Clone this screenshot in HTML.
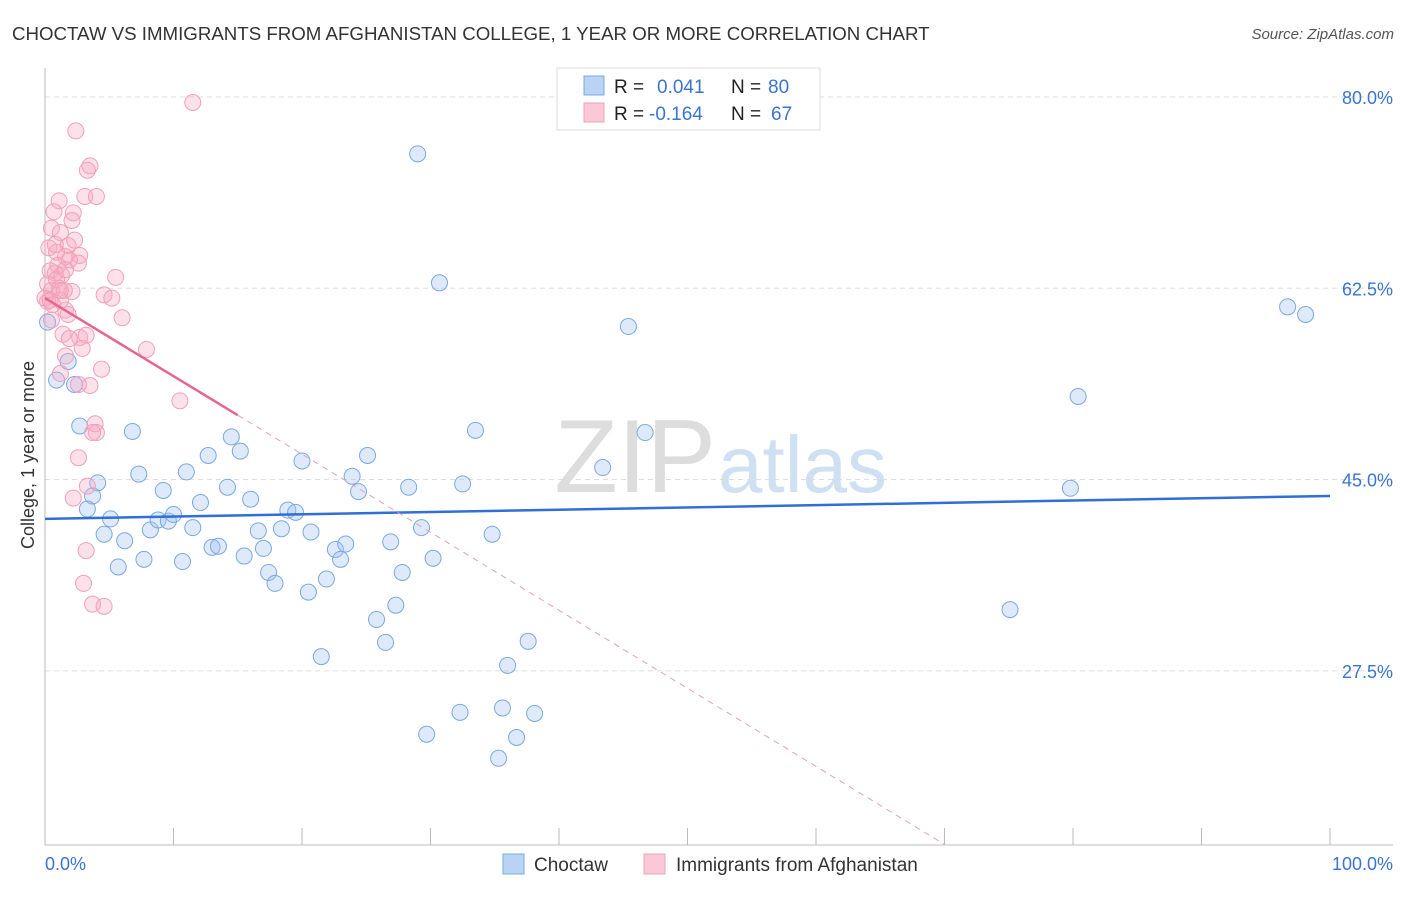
<!DOCTYPE html>
<html><head><meta charset="utf-8"><style>
body{margin:0;background:#fff;font-family:"Liberation Sans",sans-serif;}
svg text{font-family:"Liberation Sans",sans-serif;}
</style></head><body>
<svg id="chart" width="1406" height="892" xmlns="http://www.w3.org/2000/svg">
<text x="12" y="40" font-size="18.7" fill="#333">CHOCTAW VS IMMIGRANTS FROM AFGHANISTAN COLLEGE, 1 YEAR OR MORE CORRELATION CHART</text>
<text x="1394" y="39" font-size="15" fill="#555" text-anchor="end" font-style="italic">Source: ZipAtlas.com</text>
<text x="716" y="492" font-size="104" fill="#ddd" text-anchor="end" font-family="Liberation Serif">ZIP</text>
<text x="718" y="492" font-size="80" fill="#cfe0f3">atlas</text>
<g id="grid"></g>
<g id="axes"></g>
<g id="pts"></g>
<g id="trends"></g>
<text transform="translate(34,455) rotate(-90)" font-size="18" fill="#333" text-anchor="middle">College, 1 year or more</text>
<text x="45" y="870" font-size="18" fill="#3a74d0">0.0%</text>
<text x="1393" y="870" font-size="18" fill="#3a74d0" text-anchor="end">100.0%</text>
<g>
<rect x="557" y="68" width="263" height="62" fill="#fff" stroke="#ddd"/>
<rect x="584" y="76" width="20" height="19" fill="#b9d3f5" stroke="#7aa8e0"/>
<rect x="584" y="103" width="20" height="19" fill="#fbc8d7" stroke="#f0a0b8"/>
<text x="614" y="93" font-size="19" fill="#222">R =</text>
<text x="657" y="93" font-size="19" fill="#3a74d0">0.041</text>
<text x="731" y="93" font-size="19" fill="#222">N =</text>
<text x="768" y="93" font-size="19" fill="#3a74d0">80</text>
<text x="614" y="120" font-size="19" fill="#222">R =</text>
<text x="649" y="120" font-size="19" fill="#3a74d0">-0.164</text>
<text x="731" y="120" font-size="19" fill="#222">N =</text>
<text x="771" y="120" font-size="19" fill="#3a74d0">67</text>
</g>
<g>
<rect x="503" y="854" width="21" height="20" fill="#b9d3f5" stroke="#7aa8e0"/>
<text x="534" y="871" font-size="19" fill="#333">Choctaw</text>
<rect x="644" y="854" width="21" height="20" fill="#fbc8d7" stroke="#f0a0b8"/>
<text x="676" y="871" font-size="19" fill="#333">Immigrants from Afghanistan</text>
</g>
</svg>
<script>
const yTicks=[80,62.5,45,27.5];
const yTickLabels=["80.0%","62.5%","45.0%","27.5%"];
const xTicks=[0,10,20,30,40,50,60,70,80,90,100];
const blueX=[29.0,30.7,45.4,96.7,98.1,80.4,33.5,46.7,43.4,79.8,0.2,0.9,1.8,2.3,2.7,4.1,3.7,3.3,5.1,4.6,6.2,5.7,7.7,6.8,7.3,9.2,8.2,8.8,9.6,10.0,11.0,10.7,11.5,12.1,12.7,13.0,13.5,14.2,14.5,15.2,15.5,16.0,16.6,17.0,17.4,17.9,18.4,18.9,19.5,20.0,20.5,20.7,21.5,21.9,22.6,23.0,23.4,23.9,24.4,25.1,25.8,26.5,26.9,27.3,27.8,28.3,29.3,30.2,32.5,34.8,36.0,37.6,32.3,35.6,38.1,29.7,36.7,35.3,75.1];
const blueY=[74.8,63.0,59.0,60.8,60.1,52.6,49.5,49.3,46.1,44.2,59.4,54.1,55.8,53.7,49.9,44.7,43.5,42.3,41.4,40.0,39.4,37.0,37.7,49.4,45.5,44.0,40.4,41.3,41.2,41.8,45.7,37.5,40.6,42.9,47.2,38.8,38.9,44.3,48.9,47.6,38.0,43.2,40.3,38.7,36.5,35.5,40.5,42.2,42.0,46.7,34.7,40.2,28.8,35.9,38.6,37.7,39.1,45.3,43.9,47.2,32.2,30.1,39.3,33.5,36.5,44.3,40.6,37.8,44.6,40.0,28.0,30.2,23.7,24.1,23.6,21.7,21.4,19.5,33.1];
const pinkX=[11.5,2.4,3.5,3.1,4.0,1.1,0.7,2.2,2.1,0.5,1.2,1.8,0.3,0.9,2.7,2.6,1.6,0.4,0.8,1.3,5.5,0.2,1.1,2.1,4.6,5.2,0.2,1.6,1.8,6.0,0.5,1.4,2.7,3.2,1.9,2.9,7.9,1.6,4.4,1.2,3.5,2.6,10.5,3.9,4.0,3.7,2.6,3.3,2.2,3.2,3.0,3.7,4.6,0.5,0.9,1.2,0.0,1.9,1.0,0.4,1.5,2.3,1.2,0.6,1.6,3.3,0.8];
const pinkY=[79.5,76.9,73.7,70.9,70.9,70.5,69.5,69.4,68.7,68.0,67.6,66.4,66.2,65.8,65.5,64.8,65.4,64.1,63.9,63.7,63.5,62.9,62.5,62.2,61.9,61.6,61.3,60.5,60.1,59.8,59.6,58.3,58.0,58.2,57.9,57.0,56.9,56.3,55.1,54.7,53.6,53.7,52.2,50.1,49.3,49.3,47.0,44.4,43.3,38.5,35.5,33.6,33.4,62.3,63.3,61.4,61.6,65.1,64.6,61.4,62.3,66.9,62.3,61.0,64.2,73.3,66.5];
const blueTrend=[41.4,0.021];
const pinkTrend=[61.6,-0.714];
const pinkSolidEnd=15;
const X0=45,X1=1330,Y0=97,PX_PER_PCT=10.93,YBOT=845;
const sx=v=>X0+(X1-X0)*v/100;
const sy=v=>Y0+(80-v)*PX_PER_PCT;
const NS="http://www.w3.org/2000/svg";
function mk(t,a,p){const e=document.createElementNS(NS,t);for(const k in a)e.setAttribute(k,a[k]);p.appendChild(e);return e;}
const grid=document.getElementById('grid'),axes=document.getElementById('axes'),pts=document.getElementById('pts'),tr=document.getElementById('trends');
yTicks.forEach((v,i)=>{
 const l=mk('line',{x1:X0,x2:1393,y1:sy(v),y2:sy(v),stroke:'#ddd','stroke-dasharray':'5,4'},grid);
 
 
 const t=mk('text',{x:1393,y:sy(v)+7,'font-size':18,fill:'#3a74d0','text-anchor':'end'},grid);
 t.textContent=yTickLabels[i];
 
 
});
const xa=mk('line',{x1:X0,x2:1393,y1:YBOT,y2:YBOT,stroke:'#bbb'},axes);


const ya=mk('line',{x1:X0,x2:X0,y1:68,y2:YBOT,stroke:'#bbb'},axes);


xTicks.forEach(v=>{
 const t=mk('line',{x1:sx(v),x2:sx(v),y1:828,y2:YBOT,stroke:'#bbb'},axes);
 
 
});
blueX.forEach((v,i)=>{
 const c=mk('circle',{cx:sx(v),cy:sy(blueY[i]),r:8,fill:'rgba(160,195,240,0.35)',stroke:'#7aa8e0','stroke-width':1},pts);
 
 
});
pinkX.forEach((v,i)=>{
 const c=mk('circle',{cx:sx(v),cy:sy(pinkY[i]),r:8,fill:'rgba(245,170,195,0.35)',stroke:'#f0a0b8','stroke-width':1},pts);
 
 
});
const bl=mk('line',{x1:sx(0),y1:sy(blueTrend[0]),x2:sx(100),y2:sy(blueTrend[0]+blueTrend[1]*100),stroke:'#2f6fd6','stroke-width':2.5},tr);


const pe=pinkSolidEnd, xEnd=(11.6-pinkTrend[0])/pinkTrend[1];
const ps=mk('line',{x1:sx(0),y1:sy(pinkTrend[0]),x2:sx(pe),y2:sy(pinkTrend[0]+pinkTrend[1]*pe),stroke:'#e8658f','stroke-width':2.5},tr);


const pd=mk('line',{x1:sx(pe),y1:sy(pinkTrend[0]+pinkTrend[1]*pe),x2:sx(xEnd),y2:sy(pinkTrend[0]+pinkTrend[1]*xEnd),stroke:'#e8a0b8','stroke-width':1,'stroke-dasharray':'6,5'},tr);


</script>
</body></html>
